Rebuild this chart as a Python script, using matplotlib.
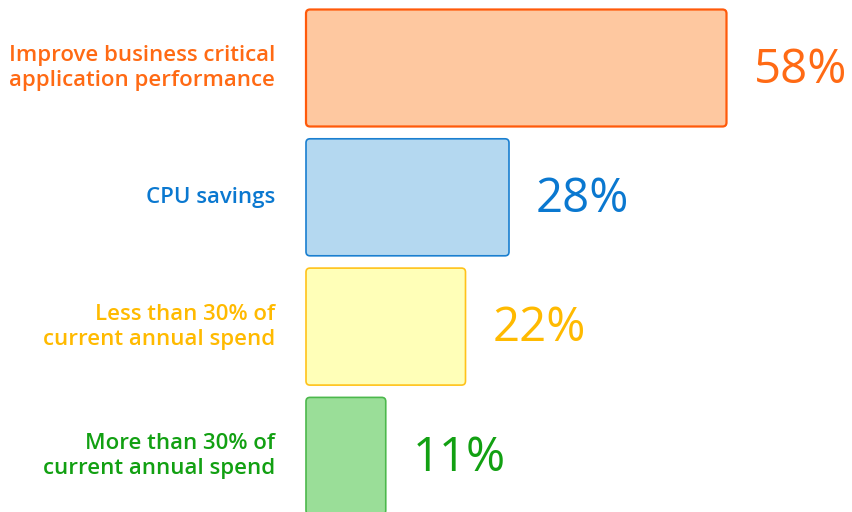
import matplotlib
matplotlib.use("Agg")
import matplotlib.pyplot as plt
from matplotlib.patches import FancyBboxPatch

categories = ["Improve business critical\napplication performance",
              "CPU savings",
              "Less than 30% of\ncurrent annual spend",
              "More than 30% of\ncurrent annual spend"]
values = [58, 28, 22, 11]
value_labels = ["58%", "28%", "22%", "11%"]

fills = ["#FEC8A0", "#B4D8F0", "#FFFFB8", "#9ADE98"]
edges = ["#FF5A0A", "#1A7FD0", "#FFC21A", "#4CB84C"]
text_colors = ["#FF6A14", "#0A78D0", "#FFBA00", "#12A012"]

W, H, DPI = 852, 512, 100
fig = plt.figure(figsize=(W / DPI, H / DPI), dpi=DPI)
left_px = 306
ax = fig.add_axes([left_px / W, 0, 1 - left_px / W, 1])

px_per_unit_x = 7.25
spacing_px = 129.3
top_center_px = 68
ax.set_xlim(0, (W - left_px) / px_per_unit_x)
ax.set_ylim((H - top_center_px) / spacing_px, -top_center_px / spacing_px)
ax.axis("off")

bar_h = 117 / spacing_px
bars = ax.barh(range(len(values)), values, height=bar_h)

round_x = 4 / px_per_unit_x
aspect = px_per_unit_x / spacing_px
for i, b in enumerate(bars):
    x0, y0 = b.get_x(), b.get_y()
    w, h = b.get_width(), b.get_height()
    b.remove()
    p = FancyBboxPatch((x0, y0), w, h,
                       boxstyle=f"round,pad=0,rounding_size={round_x}",
                       mutation_aspect=aspect,
                       facecolor=fills[i], edgecolor=edges[i], linewidth=1.6 if i == 0 else 1.2,
                       clip_on=False)
    ax.add_patch(p)
    ax.annotate(value_labels[i], xy=(w, i), xytext=(27, -2), textcoords="offset pixels",
                ha="left", va="center", fontsize=34, color=text_colors[i],
                family="Open Sans")
    ax.annotate(categories[i], xy=(0, i), xytext=(-31, 0), textcoords="offset pixels",
                ha="right", va="center", fontsize=16, color=text_colors[i],
                family="Open Sans", fontweight="semibold", linespacing=1.25,
                annotation_clip=False)

fig.savefig("out.png", dpi=DPI)
